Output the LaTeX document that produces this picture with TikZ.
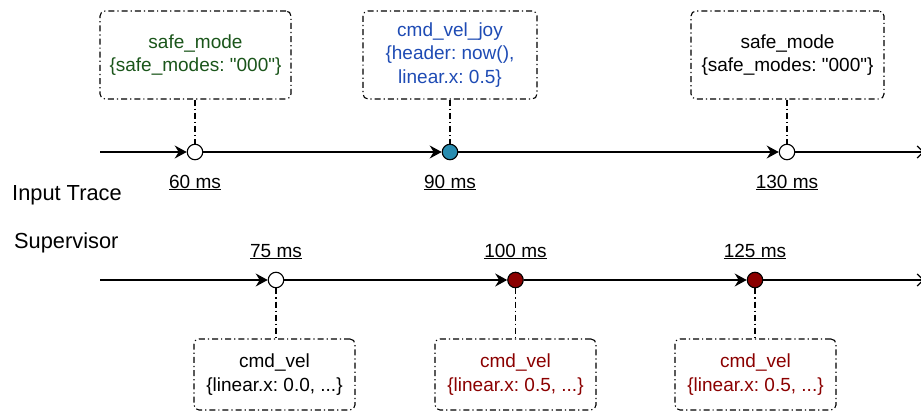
\documentclass[tikz,border=0pt]{standalone}
\usepackage{fontspec}
\setmainfont{Liberation Sans}[Ligatures=TeXOff]
\usetikzlibrary{arrows.meta}
\definecolor{modegreen}{RGB}{26,85,26}
\definecolor{joyblue}{RGB}{30,75,180}
\definecolor{joyfill}{RGB}{40,140,175}
\definecolor{velred}{RGB}{139,0,0}
\tikzset{
  msgbox/.style={draw, line width=1.1pt, rounded corners=5pt,
    dash pattern=on 6pt off 3pt on 1.2pt off 3pt, align=center,
    inner sep=0pt, font=\fontsize{19}{23.5}\selectfont},
  link/.style={line width=1.1pt, dash pattern=on 6pt off 3pt on 1.2pt off 3pt},
  evt/.style={circle, draw, line width=1.1pt, minimum size=15.5pt, inner sep=0pt, fill=white},
  tline/.style={line width=1.2pt, -{Stealth[length=12pt,width=13pt,inset=4pt]}},
  tend/.style={line width=1.2pt, -{Straight Barb[length=6pt,width=12pt]}},
  tlabel/.style={anchor=base, inner sep=0pt, font=\fontsize{19}{23}\selectfont},
  rowlabel/.style={anchor=base west, inner sep=0pt, font=\fontsize{21.8}{26}\selectfont}
}
\frenchspacing
\begin{document}
\begin{tikzpicture}[x=1pt,y=-1pt]
\useasboundingbox (0,0) rectangle (921,412);
% ---------- Input trace ----------
\coordinate (ts) at (100,152);
\coordinate (te) at (924,152);
\node[evt] (c1) at (195,152) {};
\node[evt, fill=joyfill] (c2) at (450,152) {};
\node[evt] (c3) at (787,152) {};
\draw[tline] (ts) -- (c1.west);
\draw[tline] (c1.east) -- (c2.west);
\draw[tline] (c2.east) -- (c3.west);
\draw[tend] (c3.east) -- (te);

\node[msgbox, minimum width=191pt, minimum height=88pt, text=modegreen] (b1) at (195.5,55)
  {safe\_mode\\\{safe\_modes: "000"\}};
\node[msgbox, minimum width=174pt, minimum height=88pt, text=joyblue] (b2) at (450,55)
  {cmd\_vel\_joy\\\{header: now(),\\linear.x: 0.5\}};
\node[msgbox, minimum width=193pt, minimum height=88pt] (b3) at (787.5,55)
  {safe\_mode\\\{safe\_modes: "000"\}};
\draw[link] (b1.south -| c1) -- (c1.north);
\draw[link] (b2.south -| c2) -- (c2.north);
\draw[link] (b3.south -| c3) -- (c3.north);

\node[tlabel] (l1) at (195,188) {\underline{60 ms}};
\node[tlabel] (l2) at (450,188) {\underline{90 ms}};
\node[tlabel] (l3) at (787,188) {\underline{130 ms}};

\node[rowlabel] (rin) at (12,200) {Input Trace};
\node[rowlabel] (rsup) at (14,248) {Supervisor};

% ---------- Supervisor ----------
\coordinate (ss) at (100,280);
\coordinate (se) at (924,280);
\node[evt] (d1) at (276,280) {};
\node[evt, fill=velred] (d2) at (515.5,280) {};
\node[evt, fill=velred] (d3) at (755,280) {};
\draw[tline] (ss) -- (d1.west);
\draw[tline] (d1.east) -- (d2.west);
\draw[tline] (d2.east) -- (d3.west);
\draw[tend] (d3.east) -- (se);

\node[tlabel] (m1) at (276,257) {\underline{75 ms}};
\node[tlabel] (m2) at (515.5,257) {\underline{100 ms}};
\node[tlabel] (m3) at (755,257) {\underline{125 ms}};

\node[msgbox, minimum width=161pt, minimum height=71pt] (v1) at (274.5,374.5)
  {cmd\_vel\\\{linear.x: 0.0, ...\}};
\node[msgbox, minimum width=161pt, minimum height=71pt, text=velred] (v2) at (515.5,374.5)
  {cmd\_vel\\\{linear.x: 0.5, ...\}};
\node[msgbox, minimum width=161pt, minimum height=71pt, text=velred] (v3) at (755.5,374.5)
  {cmd\_vel\\\{linear.x: 0.5, ...\}};
\draw[link] (d1.south) -- (v1.north -| d1);
\draw[link] (d2.south) -- (v2.north -| d2);
\draw[link] (d3.south) -- (v3.north -| d3);
\end{tikzpicture}
\end{document}
